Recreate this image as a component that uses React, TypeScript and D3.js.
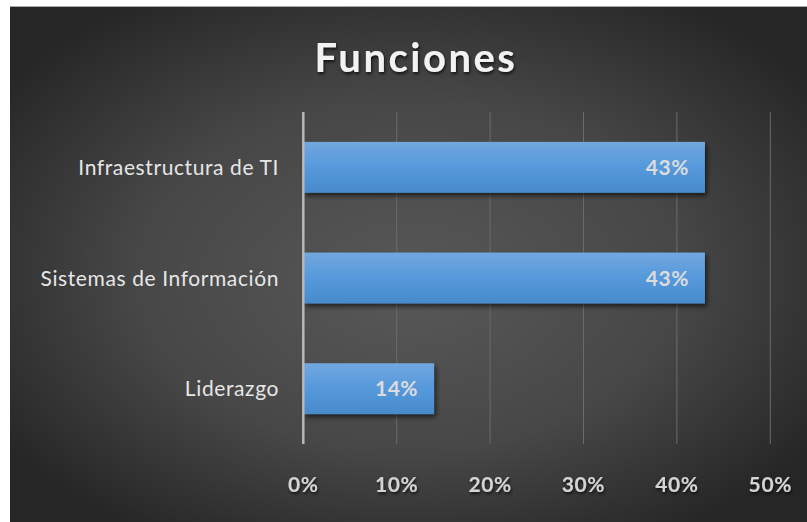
import React from "react";
import * as d3 from "d3";

const categories = ["Infraestructura de TI", "Sistemas de Información", "Liderazgo"];
const values = [0.43, 0.43, 0.14];
const tickValues = [0, 0.1, 0.2, 0.3, 0.4, 0.5];
const title = "Funciones";

const W = 807;
const H = 522;

export default function App() {
  const x = d3.scaleLinear().domain([0, 0.5]).range([303.3, 770.3]);
  const y = d3.scaleBand<string>().domain(categories).range([112, 444]).paddingInner(0.54).paddingOuter(0.27);
  const fmt = d3.format(".0%");
  const font = "Lato, 'Open Sans', sans-serif";
  return (
    <svg width={W} height={H} style={{ position: "absolute", left: 0, top: 0 }} fontFamily={font}>
      <defs>
        <radialGradient id="bg" cx="0.5" cy="0.5" r="0.62" fx="0.5" fy="0.55">
          <stop offset="0" stopColor="#585858" />
          <stop offset="0.55" stopColor="#474747" />
          <stop offset="1" stopColor="#262626" />
        </radialGradient>
        <linearGradient id="bar" x1="0" y1="0" x2="0" y2="1">
          <stop offset="0" stopColor="#72a7de" />
          <stop offset="0.5" stopColor="#5599dc" />
          <stop offset="1" stopColor="#488bcb" />
        </linearGradient>
        <filter id="shadow" x="-10%" y="-20%" width="130%" height="160%">
          <feDropShadow dx="2" dy="3" stdDeviation="2.5" floodColor="#000" floodOpacity="0.6" />
        </filter>
        <filter id="tshadow" x="-10%" y="-20%" width="130%" height="160%">
          <feDropShadow dx="1" dy="2" stdDeviation="1.5" floodColor="#000" floodOpacity="0.7" />
        </filter>
      </defs>
      <rect x={0} y={0} width={W} height={H} fill="#fff" />
      <rect x={10} y={7} width={W - 10} height={H - 7} fill="url(#bg)" />
      <line x1={10} x2={W} y1={6.5} y2={6.5} stroke="#a8a8a8" strokeWidth={1} />
      <text x={416} y={72} textAnchor="middle" fill="#f2f2f2" fontSize={40} fontWeight={700} letterSpacing={2.5} filter="url(#tshadow)">
        {title}
      </text>
      {tickValues.slice(1).map((t) => (
        <line key={t} x1={x(t)} x2={x(t)} y1={112} y2={444} stroke="#6b6b6b" strokeWidth={1} />
      ))}
      {categories.map((c, i) => (
        <g key={c}>
          <rect x={x(0)} y={y(c)} width={x(values[i]) - x(0)} height={y.bandwidth()} fill="url(#bar)" filter="url(#shadow)" />
          <text x={x(values[i]) - 16} y={(y(c) as number) + y.bandwidth() / 2 + 7.5} textAnchor="end" fill="#dcdcdc" fontSize={21} fontWeight={700} letterSpacing={0.5}>
            {fmt(values[i])}
          </text>
          <text x={279} y={(y(c) as number) + y.bandwidth() / 2 + 7.5} textAnchor="end" fill="#e6e6e6" fontSize={21} letterSpacing={0.6}>
            {c}
          </text>
        </g>
      ))}
      <line x1={x(0)} x2={x(0)} y1={112} y2={444} stroke="#b8b8b8" strokeWidth={2.5} />
      {tickValues.map((t) => (
        <text key={t} x={x(t)} y={492} textAnchor="middle" fill="#d4d4d4" fontSize={21} fontWeight={700} letterSpacing={0.6} filter="url(#tshadow)">
          {fmt(t)}
        </text>
      ))}
    </svg>
  );
}
